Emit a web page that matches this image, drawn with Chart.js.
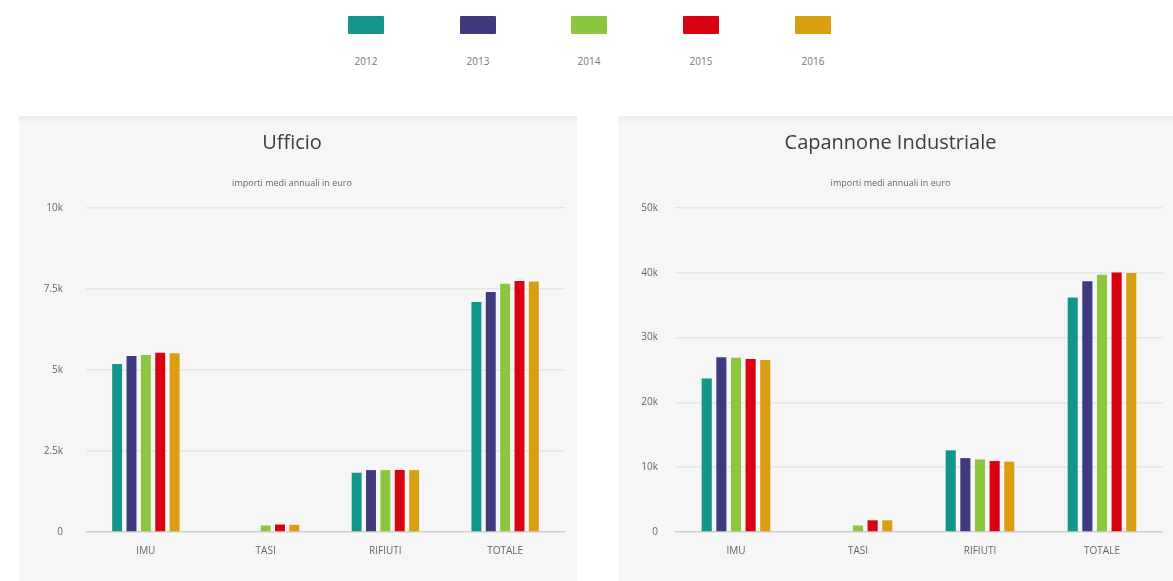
<!DOCTYPE html>
<html>
<head>
<meta charset="utf-8">
<script src="https://cdn.jsdelivr.net/npm/chart.js@4"></script>
<style>
  html, body { margin: 0; padding: 0; background: #ffffff; }
  body { width: 1173px; height: 581px; position: relative; overflow: hidden; font-family: "Open Sans", sans-serif; }
  .panel { position: absolute; top: 116px; height: 465px; background: linear-gradient(#ebebeb 0px, #f6f6f6 8px, #f6f6f6 100%); }
  .panel canvas { position: absolute; left: 0; top: 0; }
  #legend { position: absolute; left: 0; top: 0; width: 1173px; height: 80px; }
  .litem { position: absolute; top: 16px; width: 60px; margin-left: -30px; text-align: center; }
  .lbox { width: 36px; height: 18px; margin: 0 auto; border-radius: 1px; }
  .ltxt { margin-top: 20px; font-size: 10px; color: #777; font-family: "Open Sans", sans-serif; }
</style>
</head>
<body>
<div id="legend"></div>
<div class="panel" id="p1" style="left:19px;width:558px;"><canvas id="c1" width="558" height="465"></canvas></div>
<div class="panel" id="p2" style="left:618px;width:555px;"><canvas id="c2" width="555" height="465"></canvas></div>
<script>
// ---- data ----
const categories = ['IMU', 'TASI', 'RIFIUTI', 'TOTALE'];
const years = ['2012', '2013', '2014', '2015', '2016'];
const colors = ['#12968b', '#3f3a7d', '#8cc63f', '#d9000f', '#d99e12'];

const ufficioTitle = 'Ufficio';
const capannoneTitle = 'Capannone Industriale';
const subtitleText = 'importi medi annuali in euro';

// Ufficio values per year: [IMU, TASI, RIFIUTI, TOTALE]
const ufficio2012 = [5185, 0, 1830, 7100];
const ufficio2013 = [5430, 0, 1910, 7405];
const ufficio2014 = [5460, 200, 1910, 7665];
const ufficio2015 = [5530, 230, 1915, 7745];
const ufficio2016 = [5515, 220, 1910, 7735];

// Capannone Industriale values per year
const capannone2012 = [23700, 0, 12600, 36200];
const capannone2013 = [26950, 0, 11400, 38700];
const capannone2014 = [26900, 1000, 11200, 39700];
const capannone2015 = [26700, 1800, 10950, 40050];
const capannone2016 = [26550, 1800, 10850, 39950];

const ufficioTickValues = [0, 2500, 5000, 7500, 10000];
const ufficioTickLabels = ['0', '2.5k', '5k', '7.5k', '10k'];
const capannoneTickValues = [0, 10000, 20000, 30000, 40000, 50000];
const capannoneTickLabels = ['0', '10k', '20k', '30k', '40k', '50k'];

// ---- legend ----
const legendX = [366, 478, 589, 701, 813];
const legend = document.getElementById('legend');
years.forEach((y, i) => {
  const d = document.createElement('div');
  d.className = 'litem';
  d.style.left = legendX[i] + 'px';
  d.innerHTML = '<div class="lbox" style="background:' + colors[i] + '"></div><div class="ltxt">' + y + '</div>';
  legend.appendChild(d);
});

// ---- charts ----
function makeChart(id, title, series, tickValues, tickLabels, max, yWidth, rightPad, tickPad) {
  const datasets = series.map((vals, i) => ({
    label: years[i],
    data: vals,
    backgroundColor: colors[i],
    borderWidth: 0,
    categoryPercentage: 0.6,
    barPercentage: 0.69
  }));
  return new Chart(document.getElementById(id), {
    type: 'bar',
    data: { labels: categories, datasets },
    options: {
      responsive: false,
      animation: false,
      layout: { padding: { left: 0, right: rightPad, top: 0, bottom: 0 } },
      plugins: {
        legend: { display: false },
        tooltip: { enabled: false },
        title: {
          display: true, text: title, color: '#3d3d3d',
          font: { family: 'Open Sans', size: 20, weight: 'normal' },
          padding: { top: 15, bottom: 10 }
        },
        subtitle: {
          display: true, text: subtitleText, color: '#666',
          font: { family: 'Open Sans', size: 9, weight: 'normal' },
          padding: { top: 12.6, bottom: 19.6 }
        }
      },
      scales: {
        x: {
          grid: { display: false, drawTicks: false },
          border: { display: false },
          ticks: { color: '#666', font: { family: 'Open Sans', size: 10 }, padding: 13 },
          afterFit: s => { s.height = 49; }
        },
        y: {
          min: 0, max: max,
          afterBuildTicks: s => { s.ticks = tickValues.map(v => ({ value: v })); },
          grid: {
            drawTicks: false,
            color: ctx => (ctx.tick && ctx.tick.value === 0) ? '#cfcfcf' : '#e6e6e6',
            lineWidth: ctx => (ctx.tick && ctx.tick.value === 0) ? 1.5 : 1.5
          },
          border: { display: false },
          ticks: {
            color: '#666', font: { family: 'Open Sans', size: 10 }, padding: tickPad,
            callback: (v) => { const k = tickValues.indexOf(v); return k >= 0 ? tickLabels[k] : ''; }
          },
          afterFit: s => { s.width = yWidth; }
        }
      }
    }
  });
}

makeChart('c1', ufficioTitle,
  [ufficio2012, ufficio2013, ufficio2014, ufficio2015, ufficio2016],
  ufficioTickValues, ufficioTickLabels, 10000, 67, 12, 23);
makeChart('c2', capannoneTitle,
  [capannone2012, capannone2013, capannone2014, capannone2015, capannone2016],
  capannoneTickValues, capannoneTickLabels, 50000, 57, 10, 17);
</script>
</body>
</html>
